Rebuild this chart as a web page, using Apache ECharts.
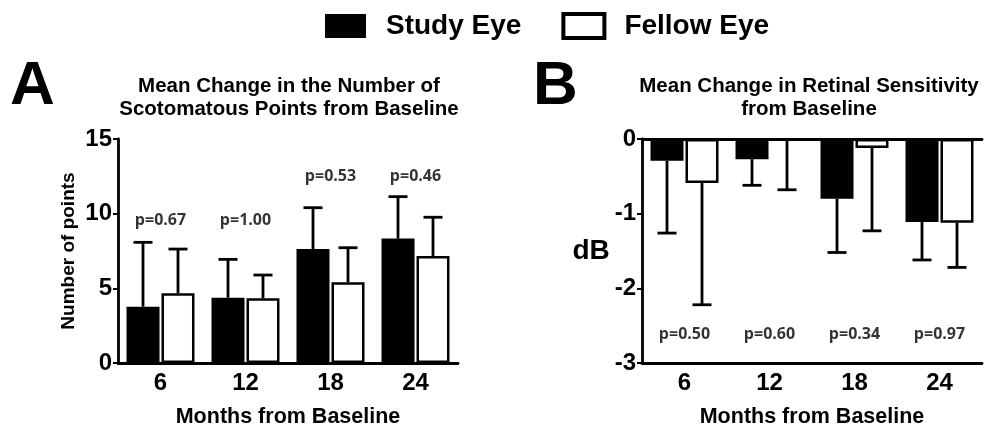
<!DOCTYPE html>
<html>
<head>
<meta charset="utf-8">
<script src="https://cdn.jsdelivr.net/npm/echarts@6/dist/echarts.min.js"></script>
<style>html,body{margin:0;padding:0;background:#fff;}#c{width:987px;height:428px;}</style>
</head>
<body>
<div id="c"></div>
<script>
// ---- Data ----
var months = ['6', '12', '18', '24'];
// Panel A: mean change in number of scotomatous points
var studyA = [3.77, 4.37, 7.63, 8.33];
var studyA_sd = [4.31, 2.57, 2.77, 2.81];
var fellowA = [4.67, 4.33, 5.40, 7.17];
var fellowA_sd = [2.96, 1.56, 2.32, 2.59];
var pA = ['p=0.67', 'p=1.00', 'p=0.53', 'p=0.46'];
var pA_at = [9.58, 9.58, 12.46, 12.46];
// Panel B: mean change in retinal sensitivity (dB)
var studyB = [-0.29, -0.27, -0.80, -1.11];
var studyB_sd = [0.97, 0.35, 0.72, 0.51];
var fellowB = [-0.59, -0.01, -0.12, -1.12];
var fellowB_sd = [1.63, 0.67, 1.11, 0.60];
var pB = ['p=0.50', 'p=0.60', 'p=0.34', 'p=0.97'];
var pB_at = [-2.62, -2.62, -2.62, -2.62];
var ticksA = {min: 0, max: 15, interval: 5};
var ticksB = {min: -3, max: 0, interval: 1};

// ---- Chart ----
var FONT = 'Liberation Sans';
var BAR_W = 33, HALF_OFF = 17.5, CAP = 9.5, LW = 2.8;

function errSeries(name, xi, means, sds, dir, side) {
  return {
    type: 'custom', name: name + ' err', xAxisIndex: xi, yAxisIndex: xi, z: 5,
    silent: true,
    data: means.map(function (m, i) { return [i, m, sds[i]]; }),
    renderItem: function (params, api) {
      var c = api.value(0), m = api.value(1), s = api.value(2);
      var p0 = api.coord([c, m]);
      var p1 = api.coord([c, m + dir * s]);
      var x = p0[0] + side * HALF_OFF;
      var st = {stroke: '#000', lineWidth: LW, fill: null};
      return {type: 'group', children: [
        {type: 'line', shape: {x1: x, y1: p0[1], x2: x, y2: p1[1]}, style: st},
        {type: 'line', shape: {x1: x - CAP, y1: p1[1], x2: x + CAP, y2: p1[1]}, style: st}
      ]};
    }
  };
}
function pSeries(xi, labels, at) {
  return {
    type: 'scatter', xAxisIndex: xi, yAxisIndex: xi, symbolSize: 0, silent: true, z: 6,
    data: labels.map(function (t, i) { return {value: [i, at[i]], name: t}; }),
    label: {show: true, position: 'inside', formatter: function (p) { return p.name; },
      fontFamily: 'Open Sans', fontWeight: 'bold', fontSize: 16, color: '#000'}
  };
}
function yAxisCfg(gi, t, name, nameRotate, nameGap, nameSize) {
  return {
    type: 'value', gridIndex: gi, min: t.min, max: t.max, interval: t.interval,
    name: name, nameLocation: 'middle', nameRotate: nameRotate, nameGap: nameGap,
    nameTextStyle: {fontFamily: FONT, fontWeight: 'bold', fontSize: nameSize, color: '#000'},
    axisLine: {show: true, lineStyle: {color: '#000', width: LW}},
    axisTick: {show: true, length: 5, lineStyle: {color: '#000', width: 2}},
    axisLabel: {fontFamily: FONT, fontWeight: 'bold', fontSize: 24, color: '#000', margin: 6},
    splitLine: {show: false}
  };
}
function xAxisCfg(gi) {
  return {
    type: 'category', gridIndex: gi, data: months,
    name: 'Months from Baseline', nameLocation: 'middle', nameGap: 43,
    nameTextStyle: {fontFamily: FONT, fontWeight: 'bold', fontSize: 21.5, color: '#000'},
    axisLine: {show: true, onZero: false, lineStyle: {color: '#000', width: LW}},
    axisTick: {show: false},
    axisLabel: {fontFamily: FONT, fontWeight: 'bold', fontSize: 24, color: '#000', margin: 8},
    splitLine: {show: false}
  };
}
var studyStyle = {color: '#000', borderColor: '#000', borderWidth: 2.5};
var fellowStyle = {color: '#fff', borderColor: '#000', borderWidth: 2.5};

var chart = echarts.init(document.getElementById('c'), null, {renderer: 'canvas'});
chart.setOption({
  animation: false,
  backgroundColor: '#fff',
  textStyle: {fontFamily: FONT},
  legend: {
    left: 325, top: 12, padding: 0, itemWidth: 41, itemHeight: 24, itemGap: 40,
    icon: 'rect',
    textStyle: {fontFamily: FONT, fontWeight: 'bold', fontSize: 28, color: '#000', padding: [0, 0, 0, 15]},
    data: [
      {name: 'Study Eye', itemStyle: {color: '#000', borderColor: '#000', borderWidth: 0}},
      {name: 'Fellow Eye', itemStyle: {color: '#fff', borderColor: '#000', borderWidth: 4}}
    ]
  },
  title: [
    {text: 'A', left: 10, top: 56, padding: 0, textStyle: {fontFamily: FONT, fontWeight: 'bold', fontSize: 62, color: '#000'}},
    {text: 'B', left: 533, top: 56, padding: 0, textStyle: {fontFamily: FONT, fontWeight: 'bold', fontSize: 62, color: '#000'}},
    {text: 'Mean Change in the Number of\nScotomatous Points from Baseline', left: 289, top: 75, padding: 0, textAlign: 'center',
      textStyle: {fontFamily: FONT, fontWeight: 'bold', fontSize: 20.5, lineHeight: 23, color: '#000'}},
    {text: 'Mean Change in Retinal Sensitivity\nfrom Baseline', left: 809, top: 75, padding: 0, textAlign: 'center',
      textStyle: {fontFamily: FONT, fontWeight: 'bold', fontSize: 20.5, lineHeight: 23, color: '#000'}}
  ],
  grid: [
    {left: 118, right: 529, top: 139, bottom: 65, outerBoundsMode: 'none', containLabel: false},
    {left: 642, right: 5, top: 139, bottom: 65, outerBoundsMode: 'none', containLabel: false}
  ],
  xAxis: [
    xAxisCfg(0),
    xAxisCfg(1),
    {type: 'category', gridIndex: 1, data: months, position: 'top',
      axisLine: {show: true, onZero: false, lineStyle: {color: '#000', width: LW}},
      axisTick: {show: false}, axisLabel: {show: false}, splitLine: {show: false}}
  ],
  yAxis: [
    yAxisCfg(0, ticksA, 'Number of points', 90, 40, 19),
    yAxisCfg(1, ticksB, 'dB', 0, 32, 28)
  ],
  series: [
    {type: 'bar', name: 'Study Eye', xAxisIndex: 0, yAxisIndex: 0, data: studyA, barWidth: BAR_W, barGap: '6%', itemStyle: studyStyle},
    {type: 'bar', name: 'Fellow Eye', xAxisIndex: 0, yAxisIndex: 0, data: fellowA, barWidth: BAR_W, barGap: '6%', itemStyle: fellowStyle},
    errSeries('Study Eye', 0, studyA, studyA_sd, 1, -1),
    errSeries('Fellow Eye', 0, fellowA, fellowA_sd, 1, 1),
    pSeries(0, pA, pA_at),
    {type: 'bar', name: 'Study Eye', xAxisIndex: 1, yAxisIndex: 1, data: studyB, barWidth: BAR_W, barGap: '6%', itemStyle: studyStyle},
    {type: 'bar', name: 'Fellow Eye', xAxisIndex: 1, yAxisIndex: 1, data: fellowB, barWidth: BAR_W, barGap: '6%', itemStyle: fellowStyle},
    errSeries('Study Eye', 1, studyB, studyB_sd, -1, -1),
    errSeries('Fellow Eye', 1, fellowB, fellowB_sd, -1, 1),
    pSeries(1, pB, pB_at)
  ]
});
</script>
</body>
</html>
